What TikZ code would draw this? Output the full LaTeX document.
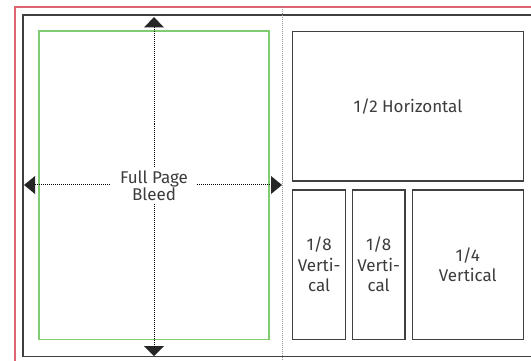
\documentclass[tikz,border=0pt]{standalone}
\usepackage{fontspec}
\setmainfont{Fira Sans}
\definecolor{bleedred}{RGB}{222,100,116}
\definecolor{trimgreen}{RGB}{128,204,112}
\definecolor{frame}{RGB}{64,64,64}
\definecolor{txt}{RGB}{60,60,60}
\definecolor{divgray}{RGB}{150,150,150}
\begin{document}
\begin{tikzpicture}[x=1pt,y=-1pt,
  adbox/.style={draw=frame,line width=1.2pt,fill=white,align=center,text=txt,font=\fontsize{17}{20.5}\selectfont,inner sep=0pt},
  dotline/.style={line width=0.9pt,dash pattern=on 1pt off 1pt,black},
  tri/.style={fill=black!85,draw=none}]
\useasboundingbox (0,0) rectangle (531,361);
\fill[white] (0,0) rectangle (531,361);
% bleed and page edges
\draw[bleedred,line width=1.3pt] (545,7) -- (15,7) -- (15,370);
\draw[frame,line width=1.4pt] (545,15) -- (23,15) -- (23,356.5) -- (545,356.5);
% spine divider
\coordinate (divtop) at (282,7);
\coordinate (divbot) at (282,361);
\draw[divgray,line width=0.9pt,dash pattern=on 1pt off 1pt] (divtop) -- (divbot);
% trim box
\draw[trimgreen,line width=1.3pt] (39,31) rectangle (269,339.3);
% arrows
\coordinate (upb) at (154,27.5);
\coordinate (dnb) at (154,346);
\coordinate (lfb) at (35,184.5);
\coordinate (rtb) at (271,184.5);
\fill[tri] (154,17) -- (164,27.5) -- (144,27.5) -- cycle;
\fill[tri] (154,356) -- (164,346) -- (144,346) -- cycle;
\fill[tri] (24,185) -- (35,176) -- (35,194) -- cycle;
\fill[tri] (282,185) -- (271,176) -- (271,194) -- cycle;
\draw[dotline] (upb) -- (dnb);
\draw[dotline] (lfb) -- (rtb);
\node[fill=white,text=txt,align=center,inner xsep=9pt,inner ysep=3pt,font=\fontsize{17}{16}\selectfont] (fpb) at (154,185.5) {Full Page\\Bleed};
% ad boxes
\node[adbox,minimum width=230.6pt,minimum height=149.3pt] (half) at (408,106.35) {1/2 Horizontal};
\node[adbox,minimum width=53pt,minimum height=149.3pt] (eighta) at (319.2,264.65) {1/8\\Verti-\\cal};
\node[adbox,minimum width=52.7pt,minimum height=149.3pt] (eighthb) at (378.65,264.65) {1/8\\Verti-\\cal};
\node[adbox,minimum width=111pt,minimum height=149.3pt] (quarter) at (467.8,264.65) {1/4\\Vertical};
\end{tikzpicture}
\end{document}
